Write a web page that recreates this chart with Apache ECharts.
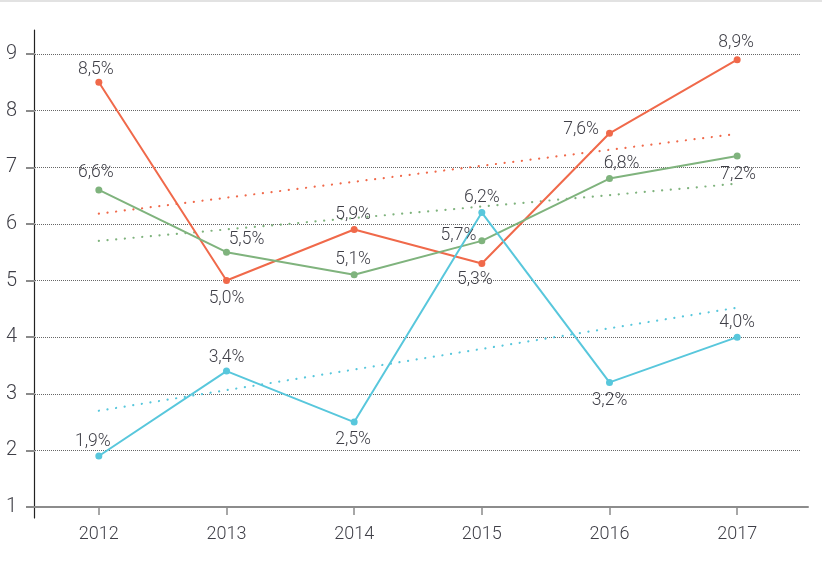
<!DOCTYPE html>
<html>
<head>
<meta charset="utf-8">
<script src="https://cdn.jsdelivr.net/npm/echarts@6/dist/echarts.min.js"></script>
<style>
  html, body { margin: 0; padding: 0; background: #fff; }
  #chart { width: 822px; height: 567px; }
  #topline { position: absolute; left: 0; top: 0; width: 822px; height: 2px; background: #e2e2e2; z-index: 5; }
</style>
</head>
<body>
<div id="topline"></div>
<div id="chart"></div>
<script>
const categories = ['2012', '2013', '2014', '2015', '2016', '2017'];
const orangeValues = [8.5, 5.0, 5.9, 5.3, 7.6, 8.9];
const greenValues  = [6.6, 5.5, 5.1, 5.7, 6.8, 7.2];
const cyanValues   = [1.9, 3.4, 2.5, 6.2, 3.2, 4.0];
// trend lines: value at 2012 and at 2017
const orangeTrend = [6.18, 7.59];
const greenTrend  = [5.70, 6.71];
const cyanTrend   = [2.70, 4.52];
const yTicks = [1, 2, 3, 4, 5, 6, 7, 8, 9];

// label placement (style only)
const orangeLabelPos = [['top', [-3, 2]], ['bottom', [0, 4]], ['top', [-1, 0]], ['bottom', [-7, 2]], ['left', [-5, -4]], ['top', [-1, -3]]];
const greenLabelPos  = [['top', [-3, -3]], ['top', [20, 2]], ['top', [-1, -1]], ['left', [0, -5]], ['top', [12, 0]], ['bottom', [1, 4]]];
const cyanLabelPos   = [['top', [-6, 0]], ['top', [0, 1]], ['bottom', [-1, 3]], ['top', [0, 0]], ['bottom', [0, 4]], ['top', [0, 0]]];

const COLORS = { orange: '#f0694a', green: '#7fb37d', cyan: '#58c7dc' };
const FONT = 'Roboto, "Liberation Sans", sans-serif';
const TEXT = '#3f3f47';

function fmt(v) { return v.toFixed(1).replace('.', ',') + '%'; }

function buildData(values, placements) {
  return values.map((v, i) => ({
    value: v,
    label: { position: placements[i][0], offset: placements[i][1] }
  }));
}

function lineSeries(name, values, placements, color) {
  return {
    name: name,
    type: 'line',
    xAxisIndex: 0, yAxisIndex: 0,
    data: buildData(values, placements),
    symbol: 'circle',
    symbolSize: 7,
    lineStyle: { color: color, width: 2 },
    itemStyle: { color: color },
    label: {
      show: true,
      distance: 2,
      formatter: p => fmt(p.value),
      color: TEXT,
      fontSize: 17.5,
      fontFamily: FONT,
      fontWeight: 300
    },
    z: 3
  };
}

function trendSeries(name, ends, color) {
  const d = categories.map(() => null);
  d[0] = ends[0];
  d[categories.length - 1] = ends[1];
  return {
    name: name,
    type: 'line',
    xAxisIndex: 0, yAxisIndex: 0,
    data: d,
    connectNulls: true,
    symbol: 'none',
    silent: true,
    lineStyle: { color: color, width: 2.2, type: [0.1, 8.6], cap: 'round' },
    z: 2
  };
}

const chart = echarts.init(document.getElementById('chart'), null, { renderer: 'canvas' });
chart.setOption({
  animation: false,
  backgroundColor: '#fff',
  grid: [
    { left: 35, right: 21, top: 54, bottom: 60 },
    { left: 34, right: 14, top: 30, bottom: 49 },
    { left: 34, right: 14, top: 30, bottom: 60 }
  ],
  xAxis: [
    {
      gridIndex: 0,
      type: 'category',
      data: categories,
      boundaryGap: true,
      axisLine: { show: false },
      axisTick: { show: true, alignWithLabel: true, length: 8, lineStyle: { color: '#8a8a8a', width: 1.5 } },
      axisLabel: { color: TEXT, fontSize: 18, fontFamily: FONT, fontWeight: 300, margin: 18 },
      splitLine: { show: false }
    },
    { gridIndex: 1, type: 'value', show: false },
    {
      gridIndex: 2, type: 'value', min: 0, max: 1,
      axisLine: { show: true, lineStyle: { color: '#8c8c8c', width: 2 } },
      axisTick: { show: false }, axisLabel: { show: false }, splitLine: { show: false }
    }
  ],
  yAxis: [
    {
      gridIndex: 0,
      type: 'value',
      min: yTicks[0],
      max: yTicks[yTicks.length - 1],
      interval: 1,
      axisLine: { show: false },
      axisTick: { show: true, length: 9, lineStyle: { color: '#8a8a8a', width: 2 } },
      axisLabel: { color: TEXT, fontSize: 20, fontFamily: FONT, fontWeight: 300, margin: 18 },
      splitLine: { show: true, showMinLine: false, lineStyle: { color: '#666', width: 1, type: [1, 1] } }
    },
    {
      gridIndex: 1, type: 'value', min: 0, max: 1,
      axisLine: { show: true, lineStyle: { color: '#222', width: 1.2 } },
      axisTick: { show: false }, axisLabel: { show: false }, splitLine: { show: false }
    },
    { gridIndex: 2, type: 'value', show: false }
  ],
  series: [
    trendSeries('orangeTrend', orangeTrend, COLORS.orange),
    trendSeries('greenTrend', greenTrend, COLORS.green),
    trendSeries('cyanTrend', cyanTrend, COLORS.cyan),
    lineSeries('orange', orangeValues, orangeLabelPos, COLORS.orange),
    lineSeries('green', greenValues, greenLabelPos, COLORS.green),
    lineSeries('cyan', cyanValues, cyanLabelPos, COLORS.cyan)
  ]
});
</script>
</body>
</html>
